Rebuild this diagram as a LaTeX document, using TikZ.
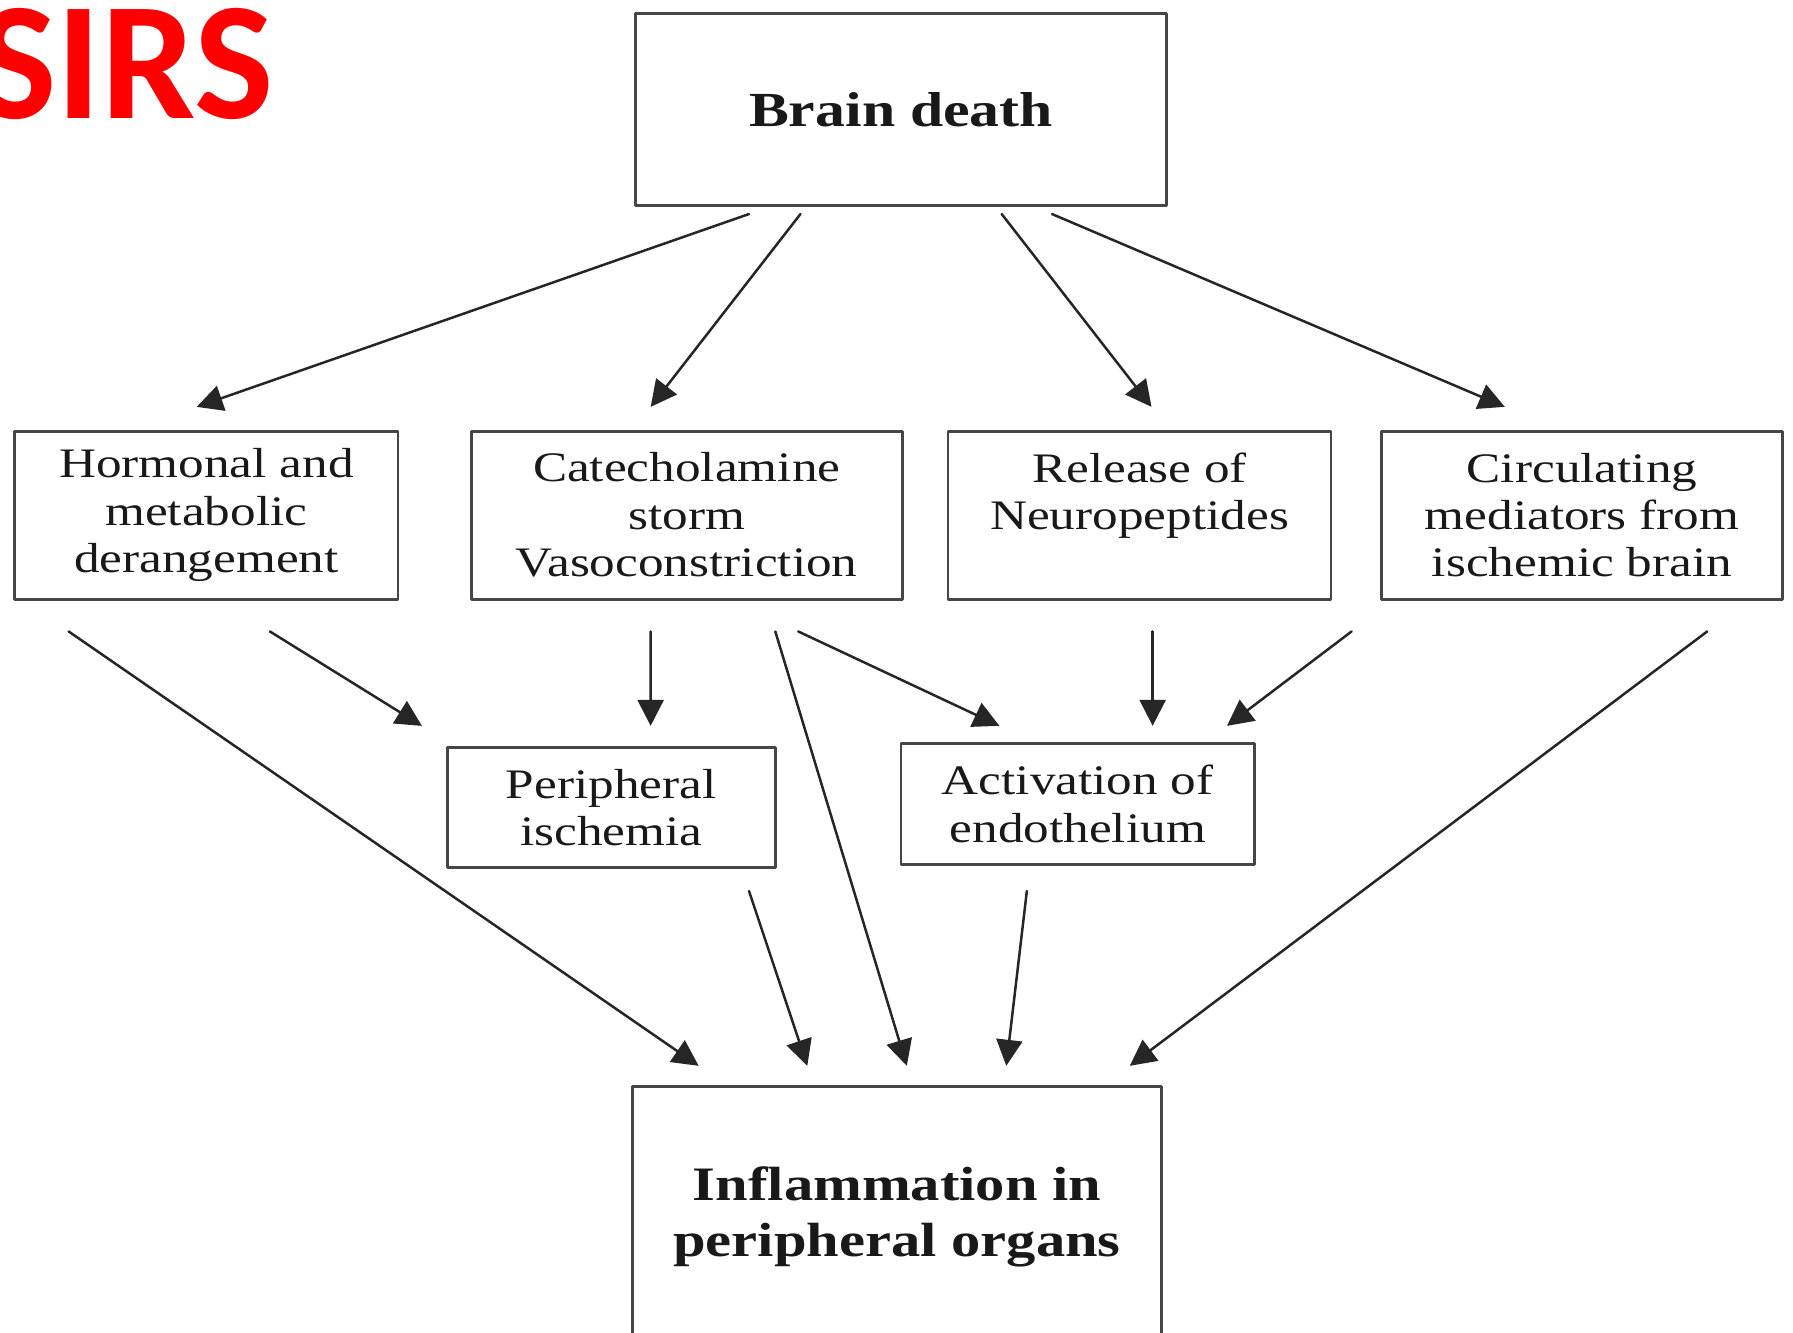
\documentclass[tikz,border=0pt]{standalone}
\usepackage{fontspec}
\usepackage{tikz}
\usetikzlibrary{arrows.meta, positioning, calc}
\newfontfamily\boxfont{Liberation Serif}[FakeStretch=1.22]
\newfontfamily\sirsfont{Carlito}
\definecolor{boxgray}{RGB}{70, 70, 70}
\definecolor{sirsred}{RGB}{255, 0, 0}
\tikzset{every node/.style={font=\boxfont}, every path/.style={line cap=round, line join=round}, >={Triangle[length=13pt, width=13pt]}}
\tikzset{
    box/.style={draw=boxgray, line width=1.4pt, inner sep=0pt, align=center, text=black!90, font=\boxfont\fontsize{21}{23.7}\selectfont},
    bigbox/.style={box, font=\boxfont\bfseries\fontsize{24}{28}\selectfont},
    arr/.style={->, draw=black!85, line width=1.25pt}
}

\begin{document}
\begin{tikzpicture}[x=0.5717pt, y=-0.5717pt]
    \useasboundingbox (0,0) rectangle (1568,1165);
    \node [anchor=base east, inner sep=0pt, text=sirsred, font=\sirsfont\bfseries\fontsize{84}{84}\selectfont] (sirs) at (240,104) {SIRS};
    \node [bigbox, minimum width=265.3pt, minimum height=96pt, font=\boxfont\bfseries\fontsize{24.5}{28}\selectfont] (bd) at (788,96) {Brain death};
    \node [box, minimum width=191.5pt, minimum height=84pt] (horm) at (180.5,450.5) {Hormonal and\\ metabolic\\ derangement};
    \node [box, minimum width=215.5pt, minimum height=84pt] (cat) at (600.5,450.5) {Catecholamine\\ storm\\ Vasoconstriction};
    \node [box, minimum width=191.5pt, minimum height=84pt] (rel) at (996.5,450.5) {Release of\\ Neuropeptides\\ ~};
    \node [box, minimum width=200.7pt, minimum height=84pt] (circ) at (1383.5,450.5) {Circulating\\ mediators from\\ ischemic brain};
    \node [box, minimum width=164pt, minimum height=60pt] (peri) at (534.5,706.5) {Peripheral\\ ischemia};
    \node [box, minimum width=176.7pt, minimum height=60.6pt] (act) at (942.5,703) {Activation of\\ endothelium};
    \node [bigbox, minimum width=264.7pt, minimum height=130pt] (infl) at (784.5,1064) {Inflammation in\\ peripheral organs};
    \draw [arr] ([shift={(-133,6)}]bd.south) -- ([shift={(-8.5,-20)}]horm.north);
    \draw [arr] ([shift={(-88,6)}]bd.south) -- ([shift={(-31.5,-20)}]cat.north);
    \draw [arr] ([shift={(88,6)}]bd.south) -- ([shift={(10.5,-20)}]rel.north);
    \draw [arr] ([shift={(132,6)}]bd.south) -- ([shift={(-67.5,-20)}]circ.north);
    \draw [arr] ([shift={(-120.5,27)}]horm.south) -- ([shift={(-173.5,-17)}]infl.north);
    \draw [arr] ([shift={(55.5,27)}]horm.south) -- ([shift={(-165.5,-18)}]peri.north);
    \draw [arr] ([shift={(-31.5,27)}]cat.south) -- ([shift={(34.5,-18)}]peri.north);
    \draw [arr] ([shift={(77.5,27)}]cat.south) -- ([shift={(8.5,-17)}]infl.north);
    \draw [arr] ([shift={(97.5,27)}]cat.south) -- ([shift={(-68.5,-14)}]act.north);
    \draw [arr] ([shift={(11.5,27)}]rel.south) -- ([shift={(65.5,-14)}]act.north);
    \draw [arr] ([shift={(-201.5,27)}]circ.south) -- ([shift={(130.5,-14)}]act.north);
    \draw [arr] ([shift={(109.5,27)}]circ.south) -- ([shift={(203.5,-17)}]infl.north);
    \draw [arr] ([shift={(120.5,19)}]peri.south) -- ([shift={(-78.5,-17)}]infl.north);
    \draw [arr] ([shift={(-44.5,22)}]act.south) -- ([shift={(95.5,-17)}]infl.north);
\end{tikzpicture}
\end{document}
